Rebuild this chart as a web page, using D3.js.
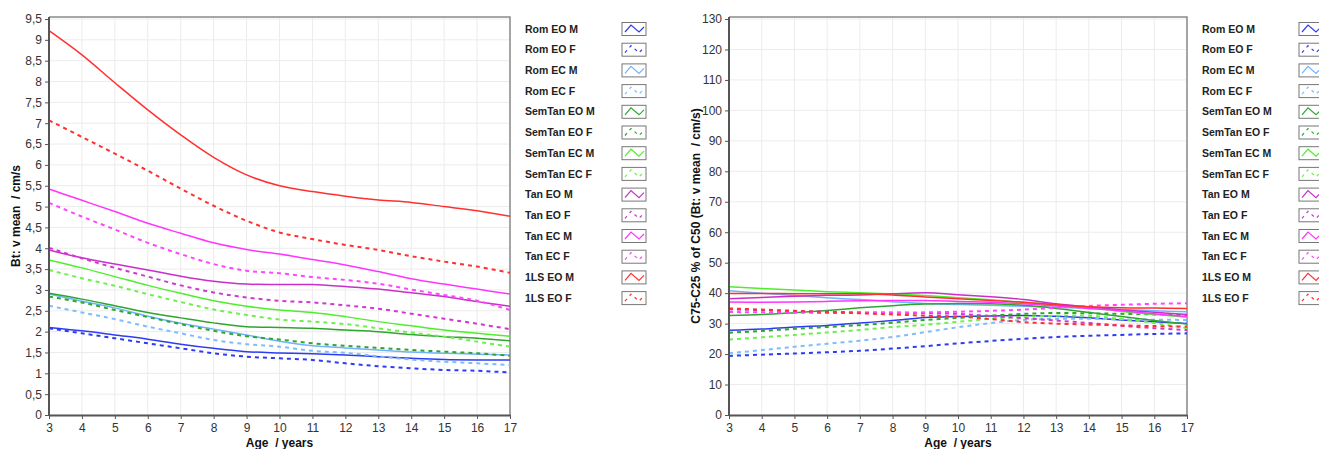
<!DOCTYPE html>
<html>
<head>
<meta charset="utf-8">
<script src="https://cdn.jsdelivr.net/npm/d3@7"></script>
<style>
  body { margin: 0; background: #fff; }
  svg text { font-family: Arial, "Liberation Sans", sans-serif; }
</style>
</head>
<body>
<div id="chart"></div>
<script>
const ages = [3, 4, 5, 6, 7, 8, 9, 10, 11, 12, 13, 14, 15, 16, 17];

const seriesNames = [
  "Rom EO M", "Rom EO F", "Rom EC M", "Rom EC F",
  "SemTan EO M", "SemTan EO F", "SemTan EC M", "SemTan EC F",
  "Tan EO M", "Tan EO F", "Tan EC M", "Tan EC F",
  "1LS EO M", "1LS EO F"
];

const leftTicks = [0, 0.5, 1, 1.5, 2, 2.5, 3, 3.5, 4, 4.5, 5, 5.5, 6, 6.5, 7, 7.5, 8, 8.5, 9, 9.5];
const rightTicks = [0, 10, 20, 30, 40, 50, 60, 70, 80, 90, 100, 110, 120, 130];

// Bt: v mean / cm/s
const meanRomEOM    = [2.10, 2.02, 1.92, 1.82, 1.70, 1.60, 1.52, 1.49, 1.47, 1.44, 1.40, 1.36, 1.33, 1.32, 1.32];
const meanRomEOF    = [2.08, 1.96, 1.84, 1.72, 1.60, 1.48, 1.40, 1.36, 1.32, 1.24, 1.17, 1.12, 1.08, 1.06, 1.02];
const meanRomECM    = [2.90, 2.73, 2.57, 2.37, 2.20, 2.06, 1.92, 1.77, 1.66, 1.61, 1.56, 1.51, 1.48, 1.46, 1.44];
const meanRomECF    = [2.62, 2.46, 2.30, 2.12, 1.96, 1.80, 1.70, 1.64, 1.54, 1.49, 1.41, 1.33, 1.28, 1.24, 1.20];
const meanSemEOM    = [2.92, 2.78, 2.62, 2.46, 2.33, 2.21, 2.12, 2.10, 2.08, 2.04, 2.00, 1.93, 1.88, 1.84, 1.78];
const meanSemEOF    = [2.84, 2.70, 2.52, 2.35, 2.18, 2.02, 1.89, 1.81, 1.72, 1.66, 1.61, 1.56, 1.52, 1.48, 1.42];
const meanSemECM    = [3.72, 3.53, 3.32, 3.11, 2.92, 2.74, 2.61, 2.52, 2.46, 2.36, 2.24, 2.14, 2.04, 1.96, 1.89];
const meanSemECF    = [3.48, 3.28, 3.10, 2.90, 2.71, 2.53, 2.40, 2.29, 2.24, 2.18, 2.08, 1.98, 1.88, 1.76, 1.64];
const meanTanEOM    = [3.96, 3.77, 3.62, 3.48, 3.33, 3.21, 3.14, 3.13, 3.13, 3.08, 3.02, 2.93, 2.84, 2.72, 2.61];
const meanTanEOF    = [4.01, 3.76, 3.53, 3.32, 3.11, 2.94, 2.82, 2.74, 2.70, 2.63, 2.55, 2.43, 2.31, 2.19, 2.06];
const meanTanECM    = [5.42, 5.15, 4.88, 4.60, 4.36, 4.13, 3.97, 3.86, 3.73, 3.60, 3.44, 3.27, 3.14, 3.02, 2.90];
const meanTanECF    = [5.09, 4.76, 4.45, 4.13, 3.86, 3.62, 3.46, 3.40, 3.31, 3.24, 3.15, 3.01, 2.88, 2.74, 2.52];
const mean1LSEOM    = [9.22, 8.64, 7.97, 7.32, 6.72, 6.18, 5.76, 5.50, 5.36, 5.25, 5.16, 5.10, 5.00, 4.90, 4.77];
const mean1LSEOF    = [7.07, 6.67, 6.27, 5.86, 5.43, 5.02, 4.66, 4.38, 4.22, 4.08, 3.96, 3.81, 3.68, 3.56, 3.41];

// C75-C25 % of C50
const iqrRomEOM     = [27.8, 28.2, 28.9, 29.4, 30.2, 31.0, 32.0, 32.3, 32.5, 32.7, 32.4, 31.9, 31.2, 30.6, 30.0];
const iqrRomEOF     = [19.4, 19.8, 20.2, 20.6, 21.1, 21.8, 22.6, 23.5, 24.3, 25.0, 25.6, 26.0, 26.3, 26.6, 26.8];
const iqrRomECM     = [40.8, 40.0, 39.2, 38.5, 37.9, 37.2, 36.6, 36.3, 36.0, 35.7, 35.4, 35.0, 34.6, 34.2, 33.9];
const iqrRomECF     = [20.3, 21.3, 22.4, 23.4, 24.4, 25.6, 27.2, 28.8, 30.2, 31.2, 31.6, 31.6, 31.4, 31.3, 31.2];
const iqrSemEOM     = [32.7, 33.0, 33.6, 34.3, 35.2, 35.9, 36.4, 36.6, 36.5, 36.0, 35.0, 33.7, 32.3, 31.0, 29.9];
const iqrSemEOF     = [27.0, 27.6, 28.3, 28.9, 29.5, 30.3, 31.2, 31.9, 32.6, 33.2, 33.5, 33.4, 33.2, 33.0, 32.8];
const iqrSemECM     = [42.1, 41.5, 41.0, 40.5, 40.1, 39.7, 39.2, 38.5, 37.8, 37.0, 36.2, 35.3, 34.0, 33.0, 32.1];
const iqrSemECF     = [24.8, 25.5, 26.3, 27.1, 27.9, 28.9, 29.6, 30.6, 31.6, 32.2, 32.6, 32.6, 31.5, 30.2, 28.5];
const iqrTanEOM     = [38.2, 38.6, 39.0, 39.3, 39.4, 39.8, 40.1, 39.5, 38.8, 37.9, 36.5, 35.5, 34.5, 33.7, 33.0];
const iqrTanEOF     = [34.7, 34.4, 34.1, 33.9, 33.7, 33.6, 33.4, 33.2, 32.5, 31.8, 31.0, 30.2, 29.3, 28.5, 27.9];
const iqrTanECM     = [37.1, 37.0, 37.1, 37.3, 37.5, 37.6, 37.6, 37.3, 37.0, 36.5, 35.8, 35.0, 34.2, 33.2, 32.3];
const iqrTanECF     = [33.8, 33.7, 33.6, 33.5, 33.5, 33.6, 33.7, 33.9, 34.2, 34.6, 35.2, 35.8, 36.2, 36.5, 36.7];
const iqr1LSEOM     = [39.9, 39.9, 39.8, 39.8, 39.8, 39.4, 38.7, 38.2, 37.6, 37.0, 36.2, 35.5, 35.2, 35.1, 35.0];
const iqr1LSEOF     = [35.0, 34.6, 34.2, 33.8, 33.4, 33.0, 32.6, 32.3, 31.5, 30.5, 30.0, 29.7, 29.4, 29.2, 29.0];

const leftSeries = [meanRomEOM, meanRomEOF, meanRomECM, meanRomECF, meanSemEOM, meanSemEOF, meanSemECM,
  meanSemECF, meanTanEOM, meanTanEOF, meanTanECM, meanTanECF, mean1LSEOM, mean1LSEOF];
const rightSeries = [iqrRomEOM, iqrRomEOF, iqrRomECM, iqrRomECF, iqrSemEOM, iqrSemEOF, iqrSemECM,
  iqrSemECF, iqrTanEOM, iqrTanEOF, iqrTanECM, iqrTanECF, iqr1LSEOM, iqr1LSEOF];

// styles per series
const colors = ["#2d3cf2", "#2d3cf2", "#6fb3ff", "#7dbcff", "#2fa52f", "#2fa52f", "#4fee2c", "#6cf04c",
  "#c92fc9", "#d038d0", "#ff35ff", "#ff45ff", "#ff3030", "#ff3030"];
const dashed = seriesNames.map(n => n.endsWith("F"));

const svg = d3.select("#chart")
  .append("svg")
  .attr("width", 1319)
  .attr("height", 449);

function drawPanel(opt) {
  const x = d3.scaleLinear().domain([3, 17]).range([opt.left, opt.right]);
  const y = d3.scaleLinear().domain([0, opt.yMax]).range([415, 19]);
  const g = svg.append("g");

  // grid
  g.selectAll(".gx").data(ages).enter().append("line")
    .attr("x1", d => x(d)).attr("x2", d => x(d))
    .attr("y1", 17).attr("y2", 415)
    .attr("stroke", "#ececec").attr("stroke-width", 1);
  g.selectAll(".gy").data(opt.ticks).enter().append("line")
    .attr("x1", opt.left).attr("x2", opt.right)
    .attr("y1", d => y(d)).attr("y2", d => y(d))
    .attr("stroke", "#ececec").attr("stroke-width", 1);

  // top / right frame
  g.append("path")
    .attr("d", `M${opt.left},17H${opt.right}V415`)
    .attr("fill", "none").attr("stroke", "#8a8a8a").attr("stroke-width", 1.5);

  // lines
  const line = d3.line()
    .x((d, i) => x(ages[i]))
    .y(d => y(d))
    .curve(d3.curveCatmullRom.alpha(0.5));

  g.selectAll(".series").data(opt.series).enter().append("path")
    .attr("d", d => line(d))
    .attr("fill", "none")
    .attr("stroke", (d, i) => colors[i])
    .attr("stroke-width", (d, i) => dashed[i] ? 2 : 1.5)
    .attr("stroke-dasharray", (d, i) => dashed[i] ? "4,4" : null);

  // axes
  const xAxis = d3.axisBottom(x).tickValues(ages).tickSize(4).tickSizeOuter(0).tickFormat(d3.format("d"));
  const yAxis = d3.axisLeft(y).tickValues(opt.ticks).tickSize(4).tickSizeOuter(0)
    .tickFormat(d => String(d).replace(".", ","));

  const ax = g.append("g").attr("transform", "translate(0,415)").call(xAxis);
  const ay = g.append("g").attr("transform", `translate(${opt.left},0)`).call(yAxis);
  [ax, ay].forEach(a => {
    a.select(".domain").attr("stroke", "#555").attr("stroke-width", 2);
    a.selectAll(".tick line").attr("stroke", "#555");
    a.selectAll(".tick text").attr("fill", "#333").attr("font-size", 12)
      .attr("font-family", "Arial, 'Liberation Sans', sans-serif");
  });
  ay.select(".domain").attr("d", "M0,17V415");
  ax.selectAll(".tick text").attr("dy", "0.85em");

  // titles
  g.append("text")
    .attr("x", (opt.left + opt.right) / 2).attr("y", 447)
    .attr("text-anchor", "middle").attr("font-weight", "bold").attr("font-size", 12)
    .attr("fill", "#111").attr("xml:space", "preserve")
    .text("Age  / years");
  g.append("text")
    .attr("transform", `translate(${opt.titleX},216) rotate(-90)`)
    .attr("text-anchor", "middle").attr("font-weight", "bold").attr("font-size", 12)
    .attr("fill", "#111").attr("xml:space", "preserve")
    .text(opt.yTitle);

  // legend
  const leg = g.append("g");
  const rows = leg.selectAll(".row").data(seriesNames).enter().append("g")
    .attr("transform", (d, i) => `translate(0,${29 + i * 20.7})`);
  rows.append("text")
    .attr("x", opt.legendX).attr("dy", "0.35em")
    .attr("font-weight", "bold").attr("font-size", 10.5).attr("fill", "#222")
    .text(d => d);
  rows.append("rect")
    .attr("x", opt.legendX + 97).attr("y", -6.5).attr("width", 24).attr("height", 13)
    .attr("fill", "#fff").attr("stroke", "#777").attr("stroke-width", 1);
  rows.append("path")
    .attr("d", d3.line()([[opt.legendX + 100, 3], [opt.legendX + 106, -4], [opt.legendX + 114, 3], [opt.legendX + 119, -2]]))
    .attr("fill", "none")
    .attr("stroke", (d, i) => colors[i])
    .attr("stroke-width", 1.2)
    .attr("stroke-dasharray", (d, i) => dashed[i] ? "3,4" : null);
}

drawPanel({
  left: 49, right: 510, yMax: 9.5, ticks: leftTicks, series: leftSeries,
  yTitle: "Bt: v mean  / cm/s", titleX: 20, legendX: 525
});
drawPanel({
  left: 729, right: 1187, yMax: 130, ticks: rightTicks, series: rightSeries,
  yTitle: "C75-C25 % of C50 (Bt: v mean  / cm/s)", titleX: 700, legendX: 1202
});
</script>
</body>
</html>
